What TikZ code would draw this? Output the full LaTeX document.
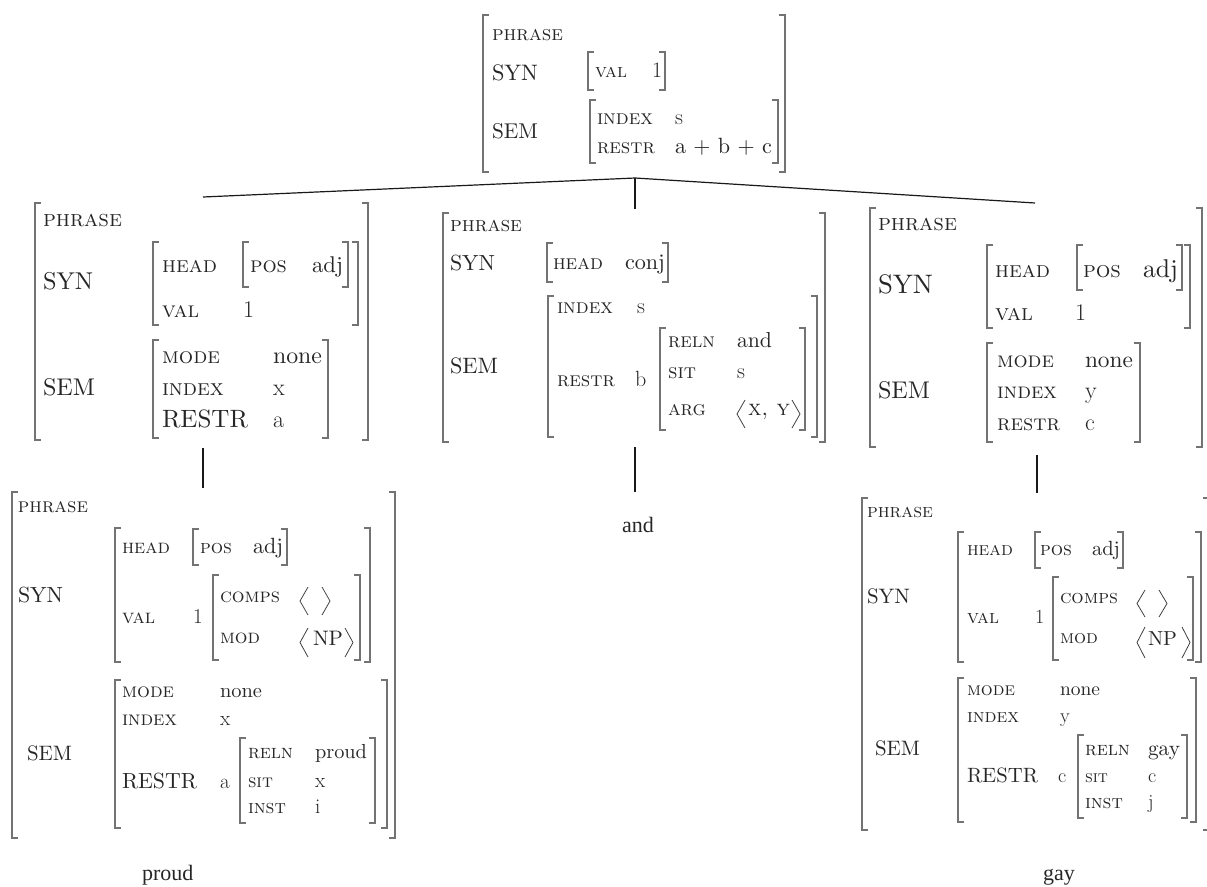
\documentclass[tikz,border=0pt]{standalone}
\usepackage{graphicx}
\usepackage{fontspec}
\newfontfamily\timesf{Liberation Serif}
\tikzset{
  lab/.style={anchor=base west, inner sep=0pt, outer sep=0pt, text=black!85},
  word/.style={anchor=base west, inner sep=0pt, outer sep=0pt, text=black!85, font=\timesf\fontsize{22}{22}\selectfont},
  br/.style={draw=black!55, line width=1.3pt},
  ang/.style={draw=black!75, line width=0.8pt},
  edge/.style={draw=black!90, line width=1.2pt},
}
\newcounter{tn}
\newcommand\N[3]{\stepcounter{tn}\node[lab] (t\the\value{tn}) at (#1,#2) {#3};}
\newcommand\Wd[2]{\resizebox{#1pt}{!}{#2}}
\newcommand\SC[2]{\Wd{#1}{\textsc{#2}}}
\newcommand\RM[2]{\Wd{#1}{#2}}
\newcommand\V[2]{{\fontsize{#1}{#1}\selectfont #2}}
\newcommand\LB[3]{\draw[br] (#1+6,#2) -- (#1,#2) -- (#1,#3) -- (#1+6,#3);}
\newcommand\RB[3]{\draw[br] (#1-6,#2) -- (#1,#2) -- (#1,#3) -- (#1-6,#3);}
\newcommand\LA[3]{\draw[ang] (#1+8,#2) -- (#1,{(#2+#3)/2}) -- (#1+8,#3);}
\newcommand\RA[3]{\draw[ang] (#1-8,#2) -- (#1,{(#2+#3)/2}) -- (#1-8,#3);}
\begin{document}
\begin{tikzpicture}[x=1pt,y=-1pt]
\useasboundingbox (0,0) rectangle (1207,886);
% ---------- top ----------
\LB{483}{15}{172} \RB{785}{15}{172}
\N{492}{40}{\SC{71}{phrase}}
\N{492}{80}{\RM{46}{SYN}}
\LB{588}{52}{90} \RB{665}{52}{90}
\N{595}{77}{\SC{32}{val}}
\N{652}{77}{\V{22}{1}}
\N{492}{138}{\RM{46}{SEM}}
\LB{590}{100}{163} \RB{778}{100}{163}
\N{597}{124}{\SC{56}{index}}
\N{675}{124}{\V{22}{s}}
\N{597}{153}{\SC{58}{restr}}
\N{675}{153}{\RM{97}{a $+$ b $+$ c}}
\coordinate (Tb) at (635,178);
\coordinate (Lt) at (203,197);
\coordinate (Mt) at (635,209);
\coordinate (Rt) at (1035,203);
% ---------- left middle ----------
\LB{35}{203}{440} \RB{368}{203}{440}
\N{43}{226}{\SC{79}{phrase}}
\N{43}{289}{\RM{50}{SYN}}
\LB{153}{242}{325} \RB{358}{242}{325}
\N{162}{272}{\SC{55}{head}}
\LB{243}{242}{287} \RB{348}{242}{287}
\N{250}{272}{\SC{37}{pos}}
\N{312}{272}{\RM{31}{adj}}
\N{162}{317}{\SC{37}{val}}
\N{243}{317}{\V{24}{1}}
\N{43}{395}{\RM{52}{SEM}}
\LB{153}{340}{438} \RB{328}{340}{438}
\N{162}{363}{\SC{58}{mode}}
\N{273}{363}{\RM{49}{none}}
\N{162}{395}{\SC{62}{index}}
\N{273}{395}{\V{24}{x}}
\N{162}{427}{\RM{86}{RESTR}}
\N{273}{427}{\V{24}{a}}
\coordinate (Lb) at (203,448);
\coordinate (BLt) at (203,488);
% ---------- middle ----------
\LB{443}{213}{442} \RB{825}{213}{442}
\N{450}{231}{\SC{72}{phrase}}
\N{450}{270}{\RM{45}{SYN}}
\LB{547}{243}{282} \RB{668}{243}{282}
\N{553}{269}{\SC{50}{head}}
\N{625}{269}{\RM{40}{conj}}
\N{450}{373}{\RM{48}{SEM}}
\LB{548}{296}{437} \RB{817}{296}{437}
\N{557}{313}{\SC{56}{index}}
\N{637}{313}{\V{22}{s}}
\N{557}{386}{\SC{58}{restr}}
\N{635}{386}{\V{22}{b}}
\LB{660}{328}{430} \RB{805}{328}{430}
\N{668}{347}{\SC{47}{reln}}
\N{737}{347}{\RM{35}{and}}
\N{668}{378}{\SC{28}{sit}}
\N{737}{378}{\V{22}{s}}
\N{668}{415}{\SC{38}{arg}}
\LA{737}{400}{428} \RA{800}{400}{428}
\N{748}{415}{\SC{42}{x, y}}
\coordinate (Mb) at (635,447);
\coordinate (andt) at (635,492);
\node[word] (and) at (622,532) {and};
% ---------- right middle ----------
\LB{870}{208}{447} \RB{1202}{208}{447}
\N{878}{230}{\SC{79}{phrase}}
\N{878}{293}{\RM{55}{SYN}}
\LB{987}{245}{328} \RB{1190}{245}{328}
\N{995}{277}{\SC{55}{head}}
\LB{1077}{245}{290} \RB{1182}{245}{290}
\N{1083}{277}{\SC{38}{pos}}
\N{1143}{277}{\RM{35}{adj}}
\N{995}{320}{\SC{38}{val}}
\N{1075}{320}{\V{24}{1}}
\N{878}{398}{\RM{52}{SEM}}
\LB{987}{343}{442} \RB{1140}{343}{442}
\N{997}{367}{\SC{57}{mode}}
\N{1085}{367}{\RM{48}{none}}
\N{997}{398}{\SC{60}{index}}
\N{1085}{398}{\V{24}{y}}
\N{997}{430}{\SC{63}{restr}}
\N{1085}{430}{\V{24}{c}}
\coordinate (Rb) at (1037,455);
\coordinate (BRt) at (1037,493);
% ---------- bottom left ----------
\LB{12}{492}{838} \RB{395}{492}{838}
\N{18}{512}{\SC{70}{phrase}}
\N{18}{602}{\RM{45}{SYN}}
\LB{115}{528}{662} \RB{370}{528}{662}
\N{122}{553}{\SC{48}{head}}
\LB{193}{529}{565} \RB{287}{529}{565}
\N{200}{553}{\SC{32}{pos}}
\N{253}{553}{\RM{30}{adj}}
\N{122}{623}{\SC{33}{val}}
\N{193}{623}{\V{21}{1}}
\LB{213}{575}{660} \RB{360}{575}{660}
\N{220}{602}{\SC{60}{comps}}
\LA{300}{587}{615} \RA{330}{587}{615}
\N{220}{643}{\SC{40}{mod}}
\LA{300}{628}{657} \RA{353}{628}{657}
\N{313}{645}{\RM{30}{NP}}
\N{27}{760}{\RM{45}{SEM}}
\LB{115}{680}{828} \RB{387}{680}{828}
\N{122}{697}{\SC{52}{mode}}
\N{220}{697}{\RM{42}{none}}
\N{122}{725}{\SC{55}{index}}
\N{220}{725}{\V{21}{x}}
\N{122}{788}{\RM{75}{RESTR}}
\N{220}{788}{\V{21}{a}}
\LB{240}{738}{823} \RB{375}{738}{823}
\N{248}{758}{\SC{45}{reln}}
\N{315}{758}{\RM{52}{proud}}
\N{248}{787}{\SC{25}{sit}}
\N{315}{787}{\V{21}{x}}
\N{248}{813}{\SC{38}{inst}}
\N{315}{813}{\V{21}{i}}
\node[word] (proud) at (142,880) {proud};
% ---------- bottom right ----------
\LB{862}{498}{830} \RB{1209}{498}{830}
\N{867}{517}{\SC{66}{phrase}}
\N{867}{603}{\RM{43}{SYN}}
\LB{958}{532}{662} \RB{1201}{532}{662}
\N{967}{555}{\SC{46}{head}}
\LB{1035}{532}{568} \RB{1123}{532}{568}
\N{1040}{555}{\SC{32}{pos}}
\N{1092}{555}{\RM{28}{adj}}
\N{967}{623}{\SC{32}{val}}
\N{1035}{623}{\V{20}{1}}
\LB{1053}{577}{660} \RB{1193}{577}{660}
\N{1060}{603}{\SC{58}{comps}}
\LA{1137}{590}{617} \RA{1167}{590}{617}
\N{1060}{643}{\SC{38}{mod}}
\LA{1137}{627}{658} \RA{1190}{627}{658}
\N{1148}{645}{\RM{29}{NP}}
\N{875}{755}{\RM{45}{SEM}}
\LB{958}{678}{822} \RB{1196}{678}{822}
\N{967}{695}{\SC{48}{mode}}
\N{1060}{695}{\RM{40}{none}}
\N{967}{722}{\SC{52}{index}}
\N{1060}{722}{\V{20}{y}}
\N{967}{782}{\RM{71}{RESTR}}
\N{1058}{782}{\V{20}{c}}
\LB{1078}{735}{818} \RB{1187}{735}{818}
\N{1085}{755}{\SC{45}{reln}}
\N{1148}{755}{\RM{32}{gay}}
\N{1085}{782}{\SC{23}{sit}}
\N{1148}{782}{\V{20}{c}}
\N{1085}{808}{\SC{38}{inst}}
\N{1148}{808}{\V{20}{j}}
\node[word] (gay) at (1043,880) {gay};
% ---------- tree edges ----------
\draw[edge] (Tb) -- (Lt);
\draw[edge] (Tb) -- (Mt);
\draw[edge] (Tb) -- (Rt);
\draw[edge] (Lb) -- (BLt);
\draw[edge] (Mb) -- (andt);
\draw[edge] (Rb) -- (BRt);
\end{tikzpicture}
\end{document}
